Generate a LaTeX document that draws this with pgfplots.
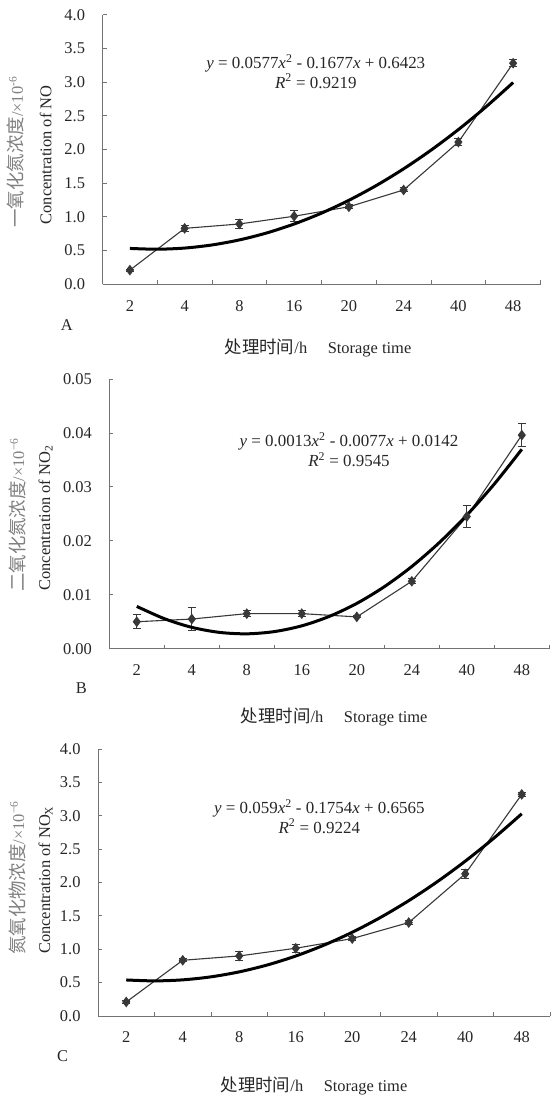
\documentclass[border=0pt]{standalone}
\usepackage{fontspec}
\setmainfont{Liberation Serif}
\newfontfamily\cjk{Noto Sans CJK SC}
\usepackage{pgfplots}
\pgfplotsset{compat=1.18}

\definecolor{axgray}{gray}{0.45}
\definecolor{linegray}{gray}{0.22}
\definecolor{labgray}{gray}{0.5}

\pgfplotsset{
  panel/.style={
    scale only axis, clip=false,
    axis lines=left, axis line style={-, draw=axgray, line width=0.9bp},
    xmin=0.5, xmax=8.5, ymin=0,
    xtick={1.5,2.5,3.5,4.5,5.5,6.5,7.5,8.5}, xticklabels={},
    extra x ticks={1,2,3,4,5,6,7,8},
    extra x tick labels={2,4,8,16,20,24,40,48},
    extra x tick style={major tick length=0pt, tick style={draw=none}},
    tick align=inside, major tick length=4bp,
    tick style={draw=axgray, line width=0.9bp},
    ticklabel style={font=\fontsize{16.5}{19}\selectfont, text=black!85},
    xticklabel style={yshift=-12.5bp},
    yticklabel style={xshift=-14bp},
    scaled y ticks=false,
    /pgf/number format/assume math mode=true,
    yticklabel style={/pgf/number format/.cd, fixed, fixed zerofill, precision=1},
  },
  data/.style={linegray, line width=1.1bp, mark=diamond*, mark size=4.5bp,
    mark options={solid, fill=linegray},
    error bars/.cd, y dir=both, y explicit,
    error bar style={line width=1bp, linegray},
    error mark options={rotate=90, mark size=4bp, line width=1bp, linegray}},
  trend/.style={black, line width=3bp, smooth, no markers},
}

\begin{document}
\begin{tikzpicture}
\path[use as bounding box] (0,0) rectangle (552bp,-1097bp);

% A: NO
\begin{axis}[panel, at={(102.5bp,-284.3bp)}, anchor=south west,
  width=438bp, height=269.6bp, ymax=4,
  ytick={0,0.5,1,1.5,2,2.5,3,3.5,4}]
\addplot[data] coordinates {
  (1,0.21) +- (0,0.015)
  (2,0.83) +- (0,0.04)
  (3,0.895) +- (0,0.06)
  (4,1.01) +- (0,0.08)
  (5,1.15) +- (0,0.03)
  (6,1.40) +- (0,0.03)
  (7,2.11) +- (0,0.05)
  (8,3.28) +- (0,0.05)
};
\addplot[trend] coordinates {
  (1,0.5323) (1.5,0.5206) (2,0.5377) (2.5,0.5837) (3,0.6585) (3.5,0.7622)
  (4,0.8947) (4.5,1.0561) (5,1.2463) (5.5,1.4654) (6,1.7133) (6.5,1.9901)
  (7,2.2957) (7.5,2.6302) (8,2.9935)
};
\end{axis}

% B: NO2
\begin{axis}[panel, at={(109.3bp,-648.7bp)}, anchor=south west,
  width=440bp, height=269.7bp, ymax=0.05,
  ytick={0,0.01,0.02,0.03,0.04,0.05},
  yticklabel style={/pgf/number format/precision=2}]
\addplot[data] coordinates {
  (1,0.0050) +- (0,0.0013)
  (2,0.0055) +- (0,0.0021)
  (3,0.0065) +- (0,0.0005)
  (4,0.0065) +- (0,0.0005)
  (5,0.0059) +- (0,0.0002)
  (6,0.0125) +- (0,0.0005)
  (7,0.0245) +- (0,0.0021)
  (8,0.0396) +- (0,0.0021)
};
\addplot[trend] coordinates {
  (1,0.00784) (1.5,0.00557) (2,0.00396) (2.5,0.00303) (3,0.00276) (3.5,0.00317)
  (4,0.00424) (4.5,0.00599) (5,0.00840) (5.5,0.01149) (6,0.01524) (6.5,0.01967)
  (7,0.02476) (7.5,0.03053) (8,0.03696)
};
\end{axis}

% C: NOx
\begin{axis}[panel, at={(98bp,-1016bp)}, anchor=south west,
  width=452bp, height=267bp, ymax=4,
  ytick={0,0.5,1,1.5,2,2.5,3,3.5,4}]
\addplot[data] coordinates {
  (1,0.21) +- (0,0.02)
  (2,0.835) +- (0,0.02)
  (3,0.90) +- (0,0.07)
  (4,1.015) +- (0,0.06)
  (5,1.16) +- (0,0.03)
  (6,1.40) +- (0,0.03)
  (7,2.13) +- (0,0.07)
  (8,3.32) +- (0,0.03)
};
\addplot[trend] coordinates {
  (1,0.5401) (1.5,0.5262) (2,0.5417) (2.5,0.5868) (3,0.6613) (3.5,0.7654)
  (4,0.8989) (4.5,1.0620) (5,1.2545) (5.5,1.4766) (6,1.7281) (6.5,2.0092)
  (7,2.3197) (7.5,2.6598) (8,3.0293)
};
\end{axis}

% equations
\begin{scope}[every node/.style={font=\fontsize{17}{20}\selectfont, text=black!85, align=center}]
\node at (315.8bp,-71.3bp) {\textit{y} = 0.0577\textit{x}\textsuperscript{2} - 0.1677\textit{x} + 0.6423\\\textit{R}\textsuperscript{2} = 0.9219};
\node at (349bp,-450bp) {\textit{y} = 0.0013\textit{x}\textsuperscript{2} - 0.0077\textit{x} + 0.0142\\\textit{R}\textsuperscript{2} = 0.9545};
\node at (319.3bp,-816.3bp) {\textit{y} = 0.059\textit{x}\textsuperscript{2} - 0.1754\textit{x} + 0.6565\\\textit{R}\textsuperscript{2} = 0.9224};
\end{scope}

% labels
\begin{scope}[every node/.style={font=\fontsize{16.5}{19}\selectfont, text=black!85}]
\node at (66.7bp,-325bp) {A};
\node at (81.4bp,-688bp) {B};
\node at (62.5bp,-1056bp) {C};
\node at (318bp,-348bp) {{\cjk\fontsize{17.5}{19}\selectfont 处理时间}/h\quad\ Storage time};
\node at (334.2bp,-717bp) {{\cjk\fontsize{17.5}{19}\selectfont 处理时间}/h\quad\ Storage time};
\node at (314bp,-1086bp) {{\cjk\fontsize{17.5}{19}\selectfont 处理时间}/h\quad\ Storage time};
\node[rotate=90, text=labgray] at (15.8bp,-152bp) {{\cjk\fontsize{18.5}{19}\selectfont 一氧化氮浓度}/×10\textsuperscript{-6}};
\node[rotate=90] at (45.6bp,-155bp) {Concentration of NO};
\node[rotate=90, text=labgray] at (17bp,-515bp) {{\cjk\fontsize{18.5}{19}\selectfont 二氧化氮浓度}/×10\textsuperscript{−6}};
\node[rotate=90] at (45.6bp,-518bp) {Concentration of NO\textsubscript{2}};
\node[rotate=90, text=labgray] at (17bp,-878bp) {{\cjk\fontsize{18.5}{19}\selectfont 氮氧化物浓度}/×10\textsuperscript{−6}};
\node[rotate=90] at (45.6bp,-880bp) {Concentration of NO\textsubscript{X}};
\end{scope}
\end{tikzpicture}
\end{document}
